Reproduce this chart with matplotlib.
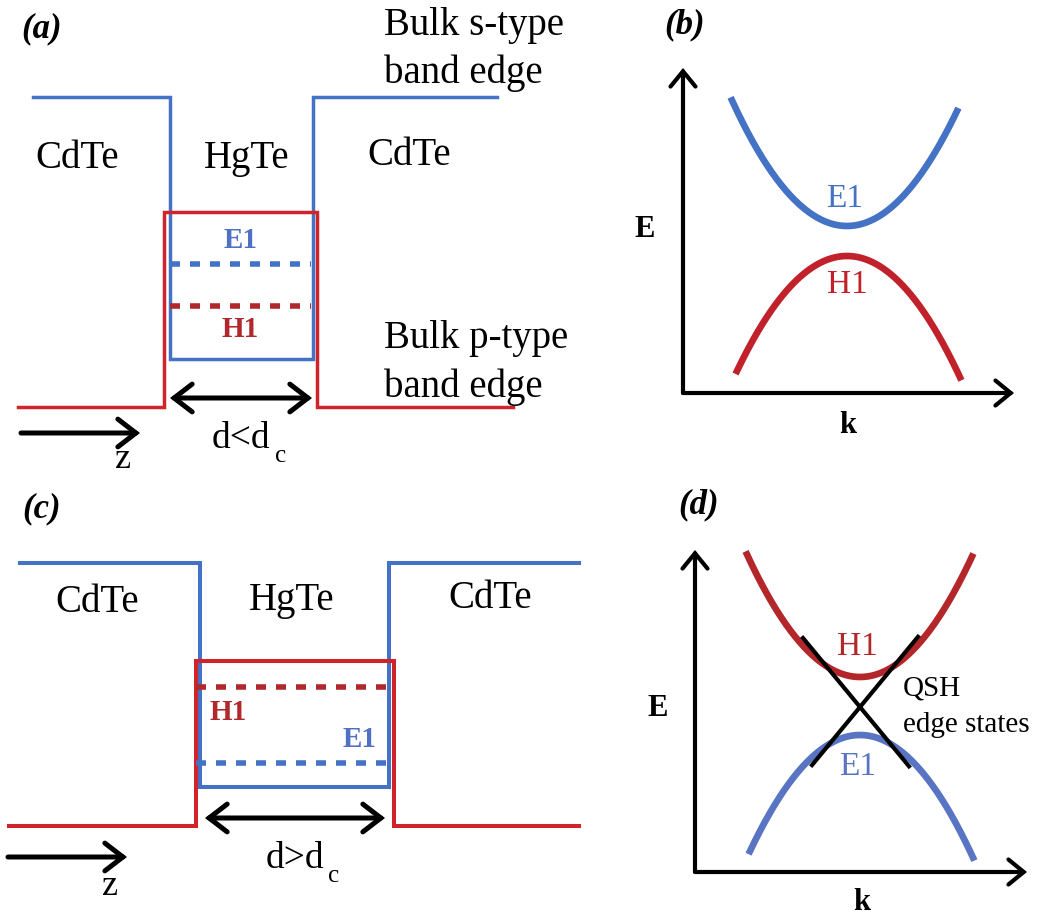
import numpy as np
import matplotlib
matplotlib.use('Agg')
import matplotlib.pyplot as plt

plt.rcParams['font.family'] = 'Liberation Serif'

BLUE = '#4472C4'
RED = '#D0232A'
DKRED = '#B0282B'
CURVE_RED = '#C0212B'

# --- (a) thin HgTe well, d < dc : normal band order ---
walls_s_a = (170, 313)      # s-type (Gamma6) edge, HgTe layer
walls_p_a = (164, 317)      # p-type (Gamma8) edge
z_span_s_a = (33, 497)
z_span_p_a = (18, 513)
Es_barrier_a, Es_well_a = 373, 111
Ep_barrier_a, Ep_well_a = 63, 258
E1_level_a, H1_level_a = 206, 164

# --- (c) thick HgTe well, d > dc : inverted band order ---
walls_s_c = (200, 389)
walls_p_c = (196, 394)
z_span_s_c = (20, 579)
z_span_p_c = (9, 579)
Es_barrier_c, Es_well_c = 354, 130
Ep_barrier_c, Ep_well_c = 91, 256
H1_level_c, E1_level_c = 230, 154

# --- (b) subband dispersion, normal regime ---
k0_b = 164
E1_min_b, H1_max_b = 167, 137
curv_b = 0.0095
k_E1_b = (-115, 110)
k_H1_b = (-110, 113)

# --- (d) subband dispersion, inverted regime with edge states ---
k0_d = 165
H1_min_d, E1_max_d = 195, 137
curv_d = 0.0096
k_H1_d = (-113, 112)
k_E1_d = (-110, 113)
E_cross_d = 165
edge_slope_d = 1.21
k_edge_down = (-57, 49)
k_edge_up = (-48, 58)

fig = plt.figure(figsize=(10.39, 9.17), dpi=100)
W, H = 1039, 917


def panel(x0, y0, w, h, xlim, ylim):
    ax = fig.add_axes([x0 / W, 1 - (y0 + h) / H, w / W, h / H])
    ax.set_xlim(*xlim)
    ax.set_ylim(*ylim)
    ax.axis('off')
    return ax


def step(span, walls, E_out, E_in):
    z = [span[0], walls[0], walls[0], walls[1], walls[1], span[1]]
    E = [E_out, E_out, E_in, E_in, E_out, E_out]
    return z, E


def arrow(ax, p0, p1, style, lw, hl=0.65, hw=0.5):
    ax.annotate('', xy=p1, xytext=p0,
                arrowprops=dict(arrowstyle=f'{style},head_length={hl},head_width={hw}',
                                lw=lw, color='black', shrinkA=0, shrinkB=0,
                                mutation_scale=20, joinstyle='miter'),
                annotation_clip=False)


def parabola(k_range, E0, curv):
    k = np.linspace(k_range[0], k_range[1], 300)
    return k, E0 + curv * k ** 2


def well_panel(ax, walls_s, walls_p, span_s, span_p, Es, Ep, lw):
    z, E = step(span_s, walls_s, *Es)
    ax.plot(z, E, color=BLUE, lw=lw, solid_joinstyle='miter')
    z, E = step(span_p, walls_p, *Ep)
    ax.plot(z, E, color=RED, lw=lw, solid_joinstyle='miter')


# (a)
ax_a = panel(0, 0, 520, 470, (0, 520), (0, 470))
well_panel(ax_a, walls_s_a, walls_p_a, z_span_s_a, z_span_p_a,
           (Es_barrier_a, Es_well_a), (Ep_barrier_a, Ep_well_a), 2.5)
ax_a.plot([walls_s_a[0], walls_s_a[1] - 2], [E1_level_a] * 2, color=BLUE, lw=4,
          ls=(0, (1.8, 1.8)))
ax_a.plot([walls_s_a[0], walls_s_a[1] - 2], [H1_level_a] * 2, color=DKRED, lw=4,
          ls=(0, (1.8, 1.8)))
ax_a.text(241, 222, 'E1', color='#5070C4', fontsize=21, fontweight='bold',
          ha='center', va='baseline')
ax_a.text(240, 133, 'H1', color=DKRED, fontsize=21, fontweight='bold',
          ha='center', va='baseline')
arrow(ax_a, (walls_s_a[0], 72), (walls_s_a[1] - 1, 72), '<->', 3.6)
arrow(ax_a, (21, 37), (140, 37), '->', 3.6)
ax_a.text(241, 22, 'd<d', fontsize=27, ha='center', va='baseline')
ax_a.text(275, 8, 'c', fontsize=18, ha='left', va='baseline')
ax_a.text(123, 2, 'z', fontsize=26, ha='center', va='baseline')
ax_a.text(77, 302, 'CdTe', fontsize=28, ha='center', va='baseline')
ax_a.text(247, 302, 'HgTe', fontsize=28, ha='center', va='baseline')
ax_a.text(409, 305, 'CdTe', fontsize=28, ha='center', va='baseline')
ax_a.text(384, 435, 'Bulk s-type', fontsize=28, ha='left', va='baseline')
ax_a.text(384, 387, 'band edge', fontsize=28, ha='left', va='baseline')
ax_a.text(384, 122, 'Bulk p-type', fontsize=28, ha='left', va='baseline')
ax_a.text(384, 73, 'band edge', fontsize=28, ha='left', va='baseline')
ax_a.text(42, 433, '(a)', fontsize=25, fontweight='bold', fontstyle='italic',
          ha='center', va='baseline')

# (c)
ax_c = panel(0, 480, 600, 437, (0, 600), (0, 437))
well_panel(ax_c, walls_s_c, walls_p_c, z_span_s_c, z_span_p_c,
           (Es_barrier_c, Es_well_c), (Ep_barrier_c, Ep_well_c), 2.9)
ax_c.plot([walls_p_c[0], walls_p_c[1]], [H1_level_c] * 2, color=DKRED, lw=4,
          ls=(0, (1.8, 1.8)))
ax_c.plot([walls_p_c[0], walls_p_c[1]], [E1_level_c] * 2, color=BLUE, lw=4,
          ls=(0, (1.8, 1.8)))
ax_c.text(228, 197, 'H1', color=DKRED, fontsize=21, fontweight='bold',
          ha='center', va='baseline')
ax_c.text(360, 170, 'E1', color='#5070C4', fontsize=21, fontweight='bold',
          ha='center', va='baseline')
arrow(ax_c, (205, 99), (385, 99), '<->', 3.6)
arrow(ax_c, (8, 60), (127, 60), '->', 3.6)
ax_c.text(295, 49, 'd>d', fontsize=27, ha='center', va='baseline')
ax_c.text(328, 35, 'c', fontsize=18, ha='left', va='baseline')
ax_c.text(110, 22, 'z', fontsize=26, ha='center', va='baseline')
ax_c.text(97, 305, 'CdTe', fontsize=28, ha='center', va='baseline')
ax_c.text(292, 307, 'HgTe', fontsize=28, ha='center', va='baseline')
ax_c.text(490, 309, 'CdTe', fontsize=28, ha='center', va='baseline')
ax_c.text(42, 400, '(c)', fontsize=25, fontweight='bold', fontstyle='italic',
          ha='center', va='baseline')

# (b)
ax_b = panel(600, 0, 439, 450, (-83, 356), (-57, 393))
arrow(ax_b, (0, 0), (0, 325), '->', 3.0, 0.55, 0.45)
arrow(ax_b, (0, 0), (331, 0), '->', 3.0, 0.55, 0.45)
k, E = parabola(k_E1_b, E1_min_b, curv_b)
ax_b.plot(k + k0_b, E, color=BLUE, lw=4.8)
k, E = parabola(k_H1_b, H1_max_b, -curv_b)
ax_b.plot(k + k0_b, E, color=CURVE_RED, lw=4.8)
ax_b.text(162, 186, 'E1', color=BLUE, fontsize=24, ha='center', va='baseline')
ax_b.text(164, 100, 'H1', color=CURVE_RED, fontsize=24, ha='center', va='baseline')
ax_b.text(-38, 156, 'E', fontsize=22, fontweight='bold', ha='center', va='baseline')
ax_b.text(165, -40, 'k', fontsize=22, fontweight='bold', ha='center', va='baseline')
ax_b.text(2, 360, '(b)', fontsize=25, fontweight='bold', fontstyle='italic',
          ha='center', va='baseline')

# (d)
ax_d = panel(600, 480, 439, 437, (-95, 344), (-45, 392))
arrow(ax_d, (0, 0), (0, 322), '->', 3.0, 0.55, 0.45)
arrow(ax_d, (0, 0), (332, 0), '->', 3.0, 0.55, 0.45)
k, E = parabola(k_H1_d, H1_min_d, curv_d)
ax_d.plot(k + k0_d, E, color='#B3262A', lw=4.8)
k, E = parabola(k_E1_d, E1_max_d, -curv_d)
ax_d.plot(k + k0_d, E, color='#5874C2', lw=4.8)
k = np.array(k_edge_down)
ax_d.plot(k + k0_d, E_cross_d - edge_slope_d * k, color='black', lw=3, zorder=3)
k = np.array(k_edge_up)
ax_d.plot(k + k0_d, E_cross_d + edge_slope_d * k, color='black', lw=3, zorder=3)
ax_d.text(162, 217, 'H1', color='#B3262A', fontsize=24, ha='center', va='baseline')
ax_d.text(163, 97, 'E1', color='#5874C2', fontsize=24, ha='center', va='baseline')
ax_d.text(208, 176, 'QSH', fontsize=21, ha='left', va='baseline')
ax_d.text(208, 140, 'edge states', fontsize=21, ha='left', va='baseline')
ax_d.text(-37, 156, 'E', fontsize=22, fontweight='bold', ha='center', va='baseline')
ax_d.text(167, -38, 'k', fontsize=22, fontweight='bold', ha='center', va='baseline')
ax_d.text(4, 359, '(d)', fontsize=25, fontweight='bold', fontstyle='italic',
          ha='center', va='baseline')

fig.savefig('out.png', dpi=100)
